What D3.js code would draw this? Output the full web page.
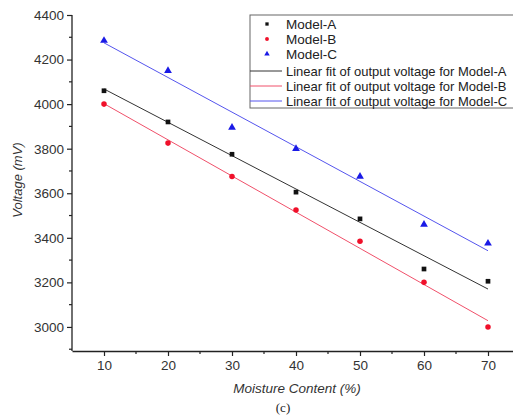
<!DOCTYPE html>
<html lang="en">
<head>
    <meta charset="UTF-8">
    <title>Voltage vs moisture</title>
    <style>
        body { margin: 0; background: #fff; }
        text { font-family: "Liberation Sans", Arial, sans-serif; fill: #222; }
    </style>
</head>
<body>
    <svg width="513" height="417"></svg>
    <script src="https://d3js.org/d3.v7.min.js"></script>
    <script>
    // moisture content (%)
    let moisture = [10, 20, 30, 40, 50, 60, 70];
    let modelA = [4060, 3920, 3775, 3605, 3485, 3260, 3205];
    let modelB = [4000, 3825, 3675, 3525, 3385, 3200, 3000];
    let modelC = [4285, 4150, 3895, 3800, 3675, 3460, 3375];
    let fitA = [4068, 3170];
    let fitB = [4002, 3028];
    let fitC = [4275, 3342];
    let seriesNames = ["Model-A", "Model-B", "Model-C"];
    let fitNames = ["Linear fit of output voltage for Model-A", "Linear fit of output voltage for Model-B", "Linear fit of output voltage for Model-C"];
    let xTicks = [10, 20, 30, 40, 50, 60, 70];
    let yTicks = [3000, 3200, 3400, 3600, 3800, 4000, 4200, 4400];

    let colors = ["#111", "#f0102a", "#1a1ae6"];
    let lineColors = ["#333", "#f0506a", "#5555ee"];

    let svg = d3.select("svg");
    let x = d3.scaleLinear().domain([5, 75]).range([72, 520]);
    let y = d3.scaleLinear().domain([2892, 4400]).range([351, 15]);

    // axes
    let xAxis = d3.axisBottom(x).tickValues(xTicks).tickFormat(d3.format("d")).tickSize(5).tickSizeOuter(0).tickPadding(4);
    let gx = svg.append("g").attr("transform", "translate(0,351)").call(xAxis);
    let yAxis = d3.axisLeft(y).tickValues(yTicks).tickFormat(d3.format("d")).tickSize(5).tickSizeOuter(0).tickPadding(3);
    let gy = svg.append("g").attr("transform", "translate(72,0)").call(yAxis);
    [gx, gy].forEach(function (g) {
        g.select(".domain").attr("stroke", "#222").attr("stroke-width", 1.3);
        g.selectAll(".tick line").attr("stroke", "#222").attr("stroke-width", 1.2);
        g.selectAll(".tick text").style("font-size", "13.5px").style("fill", "#333");
    });
    gy.select(".domain").attr("d", "M0," + y(4400) + "V351");

    // minor ticks
    svg.append("g").selectAll("line")
        .data(d3.range(15, 75, 10))
        .enter().append("line")
        .attr("x1", function (d) { return x(d); }).attr("x2", function (d) { return x(d); })
        .attr("y1", 351).attr("y2", 354)
        .attr("stroke", "#222").attr("stroke-width", 1.2);
    svg.append("g").selectAll("line")
        .data(d3.range(2900, 4400, 200))
        .enter().append("line")
        .attr("x1", 72).attr("x2", 69)
        .attr("y1", function (d) { return y(d); }).attr("y2", function (d) { return y(d); })
        .attr("stroke", "#222").attr("stroke-width", 1.2);

    // fit lines
    [fitA, fitB, fitC].forEach(function (f, i) {
        svg.append("line")
            .attr("x1", x(10)).attr("y1", y(f[0]))
            .attr("x2", x(70)).attr("y2", y(f[1]))
            .attr("stroke", lineColors[i]).attr("stroke-width", 1);
    });

    // points
    let sqr = d3.symbol().type(d3.symbolSquare).size(22);
    let circ = d3.symbol().type(d3.symbolCircle).size(24);
    let tri = d3.symbol().type(d3.symbolTriangle).size(26);
    let shapes = [sqr, circ, tri];
    [modelA, modelB, modelC].forEach(function (vals, i) {
        svg.append("g").selectAll("path")
            .data(vals)
            .enter().append("path")
            .attr("d", shapes[i])
            .attr("transform", function (d, j) { return "translate(" + x(moisture[j]) + "," + y(d) + ")"; })
            .attr("fill", colors[i]);
    });

    // legend
    let lg = svg.append("g").attr("transform", "translate(250,15)");
    lg.append("rect").attr("x", 0).attr("y", 0).attr("width", 280).attr("height", 93)
        .attr("fill", "#fff").attr("stroke", "#666").attr("stroke-width", 1);
    seriesNames.forEach(function (n, i) {
        let yy = 9 + i * 15;
        lg.append("path").attr("d", shapes[i]).attr("transform", "translate(17," + yy + ") scale(0.7)").attr("fill", colors[i]);
        lg.append("text").attr("x", 36).attr("y", yy + 5).style("font-size", "13.5px").text(n);
    });
    fitNames.forEach(function (n, i) {
        let yy = 56 + i * 15;
        lg.append("line").attr("x1", 0).attr("x2", 32).attr("y1", yy).attr("y2", yy)
            .attr("stroke", lineColors[i]).attr("stroke-width", 1);
        lg.append("text").attr("x", 36).attr("y", yy + 5).style("font-size", "13px").text(n);
    });

    // axis titles
    svg.append("text")
        .attr("transform", "translate(22,180) rotate(-90)")
        .attr("text-anchor", "middle")
        .style("font-size", "13px").style("font-style", "italic").style("fill", "#333")
        .text("Voltage (mV)");
    svg.append("text")
        .attr("x", 297).attr("y", 393)
        .attr("text-anchor", "middle")
        .style("font-size", "13.5px").style("font-style", "italic").style("fill", "#333")
        .text("Moisture Content (%)");
    svg.append("text")
        .attr("x", 283).attr("y", 412)
        .attr("text-anchor", "middle")
        .style("font-family", "'Liberation Serif', serif").style("font-size", "13px")
        .text("(c)");
    </script>
</body>
</html>
